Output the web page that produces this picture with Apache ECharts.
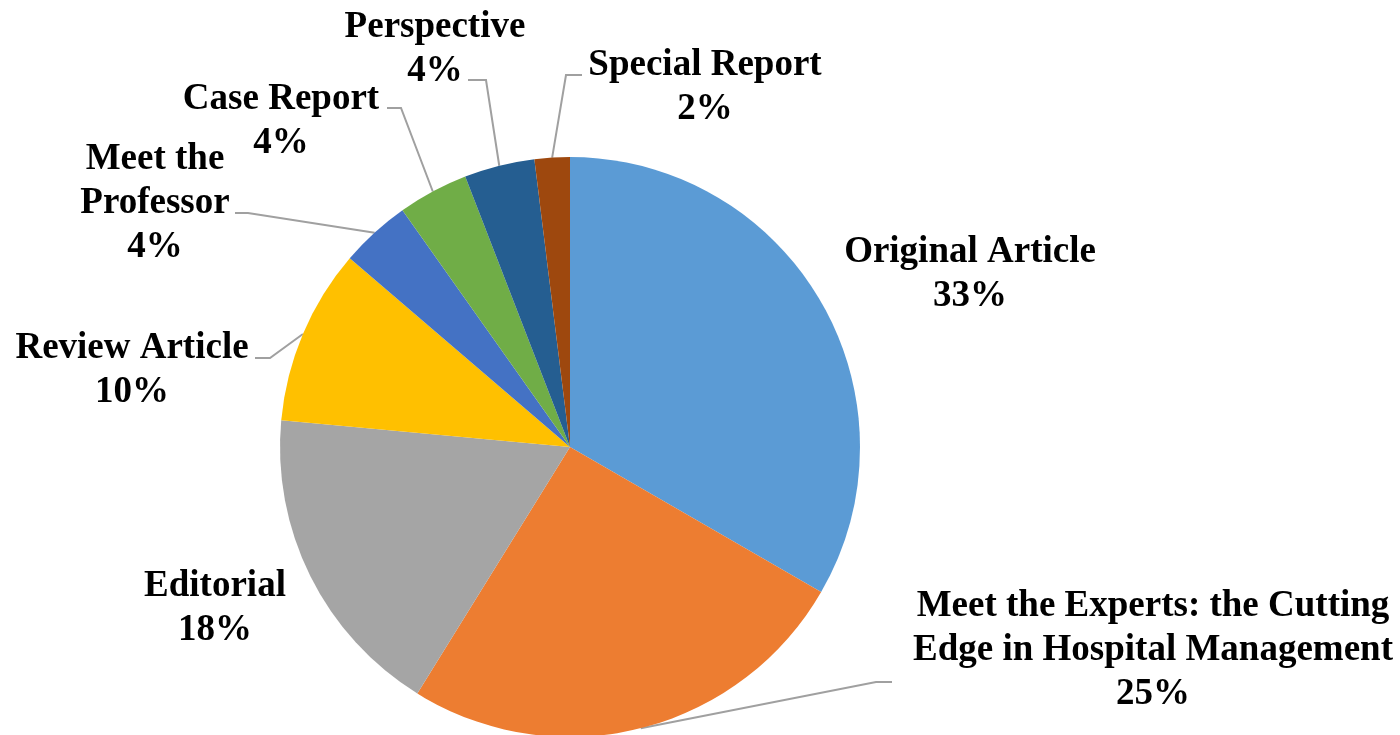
<!DOCTYPE html>
<html>
<head>
<meta charset="utf-8">
<script src="https://cdn.jsdelivr.net/npm/echarts@6/dist/echarts.min.js"></script>
<style>
  html, body { margin: 0; padding: 0; background: #fff; }
  #chart { width: 1400px; height: 735px; }
</style>
</head>
<body>
<div id="chart"></div>
<script>
// article counts by type (51 articles)
const categories = [
  'Original Article',
  'Meet the Experts: the Cutting\nEdge in Hospital Management',
  'Editorial',
  'Review Article',
  'Meet the\nProfessor',
  'Case Report',
  'Perspective',
  'Special Report',
]
const counts = [17, 13, 9, 5, 2, 2, 2, 1]
const colors = ['#5B9BD5', '#ED7D31', '#A5A5A5', '#FFC000', '#4472C4', '#70AD47', '#255E91', '#9E480E']

// label block centres and leader-line elbows (layout only)
const labelPos = [
  [970, 274], [1153, 650], [215, 608], [132, 370],
  [155, 203], [281, 121], [435, 49], [705, 87],
]
const elbows = [
  null,
  [[876, 682], [892, 682]],
  null,
  [[270, 358], [255, 358]],
  [[248, 213], [235, 213]],
  [[401, 108], [387, 108]],
  [[486, 80], [468, 80]],
  [[566, 75], [582, 75]],
]

const chart = echarts.init(document.getElementById('chart'))

chart.setOption({
  animation: false,
  backgroundColor: '#fff',
  series: [
    {
      type: 'pie',
      center: [570, 447],
      radius: 290,
      startAngle: 90,
      clockwise: true,
      percentPrecision: 0,
      avoidLabelOverlap: false,
      itemStyle: { borderWidth: 0 },
      label: {
        show: true,
        position: 'outside',
        formatter: '{b}\n{d}%',
        fontFamily: '"Liberation Serif", "Times New Roman", serif',
        fontWeight: 'bold',
        fontSize: 37,
        lineHeight: 44,
        color: '#000',
        align: 'center',
      },
      labelLine: {
        show: true,
        lineStyle: { color: '#A0A0A0', width: 2 },
      },
      emphasis: { disabled: true },
      data: categories.map((name, i) => ({
        name,
        value: counts[i],
        itemStyle: { color: colors[i] },
        labelLine: { show: elbows[i] != null },
      })),
      labelLayout: (params) => {
        const i = params.dataIndex
        const out = {
          x: labelPos[i][0],
          y: labelPos[i][1],
          align: 'center',
          verticalAlign: 'middle',
        }
        if (elbows[i] && params.labelLinePoints) {
          out.labelLinePoints = [params.labelLinePoints[0], ...elbows[i]]
        }
        return out
      },
    },
  ],
})
</script>
</body>
</html>
